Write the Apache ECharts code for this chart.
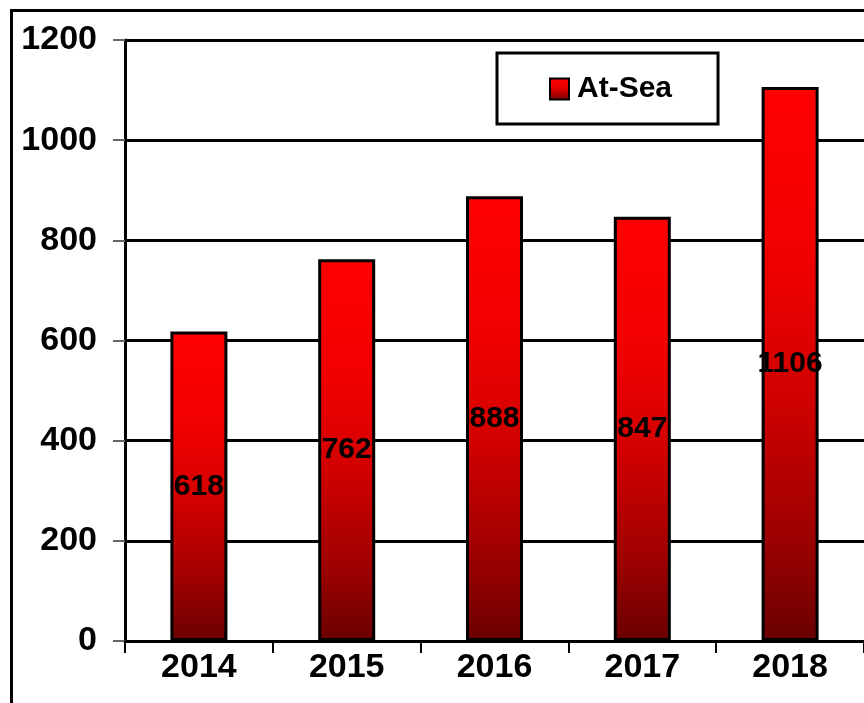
<!DOCTYPE html>
<html>
<head>
<meta charset="utf-8">
<script src="https://cdn.jsdelivr.net/npm/echarts@6/dist/echarts.min.js"></script>
<style>
  html, body { margin: 0; padding: 0; background: #fff; }
  #chart { width: 864px; height: 703px; }
</style>
</head>
<body>
<div id="chart"></div>
<script>
// data
var years = ["2014", "2015", "2016", "2017", "2018"];
var atSea = [618, 762, 888, 847, 1106];
var seriesName = "At-Sea";

var font = "'Liberation Sans', Arial, sans-serif";

// red -> dark red, per bar
var barFill = new echarts.graphic.LinearGradient(0, 0, 0, 1, [
  { offset: 0, color: "#ff0000" },
  { offset: 0.3, color: "#f20000" },
  { offset: 0.55, color: "#d20000" },
  { offset: 0.8, color: "#a00000" },
  { offset: 1, color: "#6a0000" }
]);

var chart = echarts.init(document.getElementById("chart"));
var option = {
  animation: false,
  backgroundColor: "#fff",
  grid: { left: 125, right: -4, top: 40, bottom: 62 },
  graphic: [{
    type: "rect",
    shape: { x: 11.5, y: 10.5, width: 900, height: 800 },
    style: { fill: null, stroke: "#000", lineWidth: 3 },
    silent: true
  }],
  legend: {
    data: [seriesName],
    left: 497,
    top: 53,
    orient: "horizontal",
    backgroundColor: "#fff",
    borderColor: "#000",
    borderWidth: 3,
    borderRadius: 0,
    padding: [21, 46, 20, 52],
    itemWidth: 19,
    itemHeight: 21,
    icon: "rect",
    itemStyle: { borderColor: "#000", borderWidth: 2 },
    textStyle: { fontFamily: font, fontWeight: "bold", fontSize: 30, color: "#000", padding: [0, 0, 0, 3] }
  },
  xAxis: {
    type: "category",
    data: years,
    axisLine: { lineStyle: { color: "#000", width: 3 } },
    axisTick: { show: true, length: 12, lineStyle: { color: "#000", width: 2 } },
    axisLabel: { fontFamily: font, fontWeight: "bold", fontSize: 34, color: "#000", margin: 10 }
  },
  yAxis: {
    type: "value",
    min: 0,
    max: 1200,
    interval: 200,
    axisLine: { show: true, lineStyle: { color: "#000", width: 3 } },
    axisTick: { show: true, length: 12, lineStyle: { color: "#666", width: 2 } },
    splitLine: { lineStyle: { color: "#000", width: 3 } },
    axisLabel: {
      fontFamily: font, fontWeight: "bold", fontSize: 34, color: "#000", margin: 28,
      formatter: function (v) { return String(v); }
    }
  },
  series: [{
    name: seriesName,
    type: "bar",
    data: atSea,
    barWidth: 57,
    itemStyle: { color: barFill, borderColor: "#000", borderWidth: 3 },
    label: {
      show: true,
      position: "inside",
      fontFamily: font,
      fontWeight: "bold",
      fontSize: 30,
      color: "#000"
    }
  }]
};
chart.setOption(option, true);
</script>
</body>
</html>
